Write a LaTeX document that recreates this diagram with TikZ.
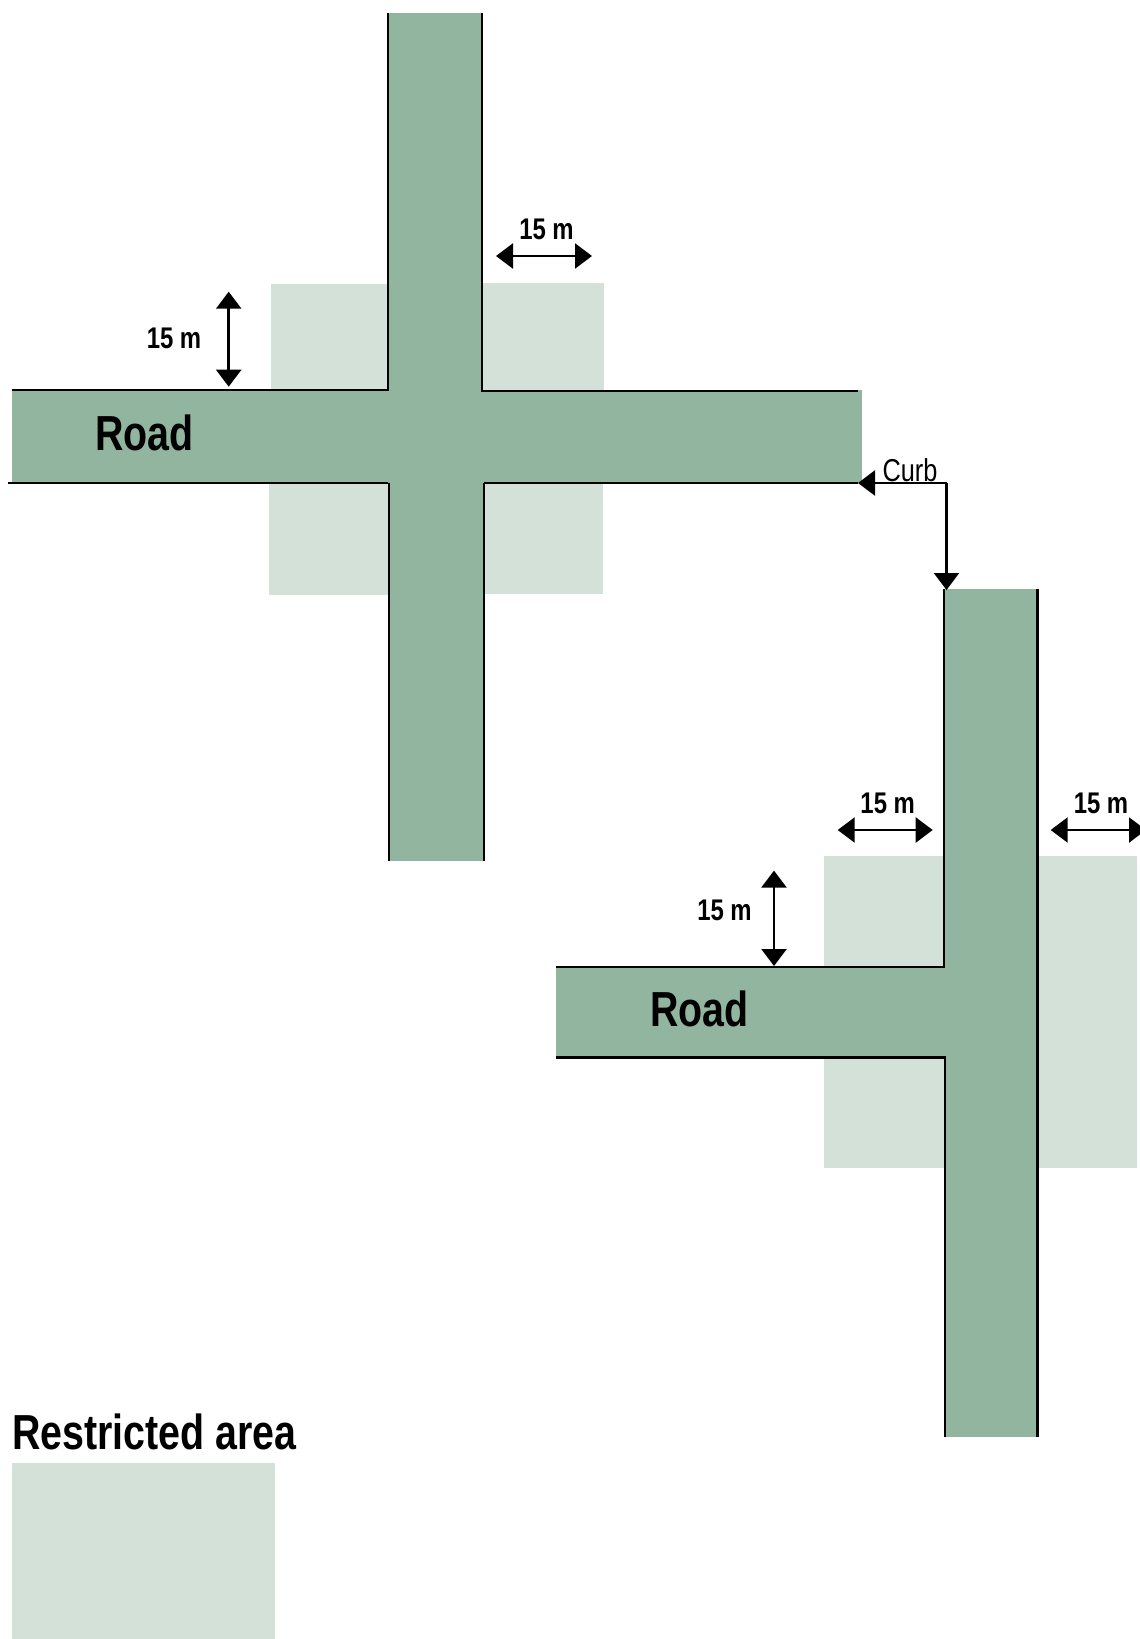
\documentclass[tikz,border=0pt]{standalone}
\usepackage{fontspec}
\setmainfont{Liberation Sans}
\newfontfamily\narrowbold[FakeStretch=0.8,WordSpace=1.3]{Liberation Sans}
\newfontfamily\narrowthin[FakeStretch=0.8]{Liberation Sans}
\usetikzlibrary{arrows.meta}
\definecolor{roadgreen}{HTML}{92B5A0}
\definecolor{zonegreen}{HTML}{D4E1D8}
\tikzset{
    road/.style={fill=roadgreen,draw=none},
    zone/.style={fill=zonegreen,draw=none},
    curbline/.style={black,line width=1.6pt},
    dimarrow/.style={black,line width=1.4pt,{Triangle[length=.34cm,width=.5cm]}-{Triangle[length=.34cm,width=.5cm]}},
    curbarrow/.style={black,line width=1.4pt,-{Triangle[length=.34cm,width=.5cm]}},
    dimlabel/.style={font=\narrowbold\bfseries\fontsize{17}{20}\selectfont,inner sep=0pt},
    roadlabel/.style={font=\narrowbold\bfseries\fontsize{28}{32}\selectfont,inner sep=0pt}
}
\begin{document}
\begin{tikzpicture}[x=0.02cm,y=-0.02cm]
    \useasboundingbox (0,0) rectangle (1139,1639);
    \fill[zone] (271,284) rectangle (389,391);
    \fill[zone] (482,283) rectangle (604,391);
    \fill[zone] (269,483) rectangle (390,595);
    \fill[zone] (483,483) rectangle (603,594);
    \fill[zone] (824,856) rectangle (945,1168);
    \fill[zone] (1037,856) rectangle (1137,1168);
    \fill[zone] (12,1463) rectangle (275,1639);
    \fill[road] (388,13) rectangle (483,861);
    \fill[road] (12,390) rectangle (862,483);
    \fill[road] (944,589) rectangle (1038,1437);
    \fill[road] (556,967) rectangle (945,1058);
    \draw[curbline] (388,13)--(388,390)--(12,390);
    \draw[curbline] (482,13)--(482,391)--(858,391);
    \draw[curbline] (8,483)--(388,483);
    \draw[curbline] (389,483)--(389,861);
    \draw[curbline] (484,483)--(484,861);
    \draw[curbline] (484,483)--(858,483);
    \draw[curbline] (944,589)--(944,967)--(556,967);
    \draw[curbline] (556,1057.5)--(945,1057.5)--(945,1437);
    \draw[curbline] (1037.5,589)--(1037.5,1437);
    \coordinate (curbcorner) at (946.5,483);
    \coordinate (curbleft) at (858,483);
    \coordinate (curbdown) at (946.5,590);
    \draw[curbarrow] (curbcorner)--(curbleft);
    \draw[curbarrow] (curbcorner)--(curbdown);
    \node[font=\narrowthin\fontsize{18}{20}\selectfont,inner sep=0pt] (curblabel) at (910,470) {Curb};
    \coordinate (topa) at (496,256);
    \coordinate (topb) at (592,256);
    \draw[dimarrow] (topa)--(topb);
    \node[dimlabel] (toplabel) at (546.5,229) {15 m};
    \coordinate (sidea) at (228.7,291.7);
    \coordinate (sideb) at (228.7,386.7);
    \draw[dimarrow] (sidea)--(sideb);
    \node[dimlabel] (sidelabel) at (174,338) {15 m};
    \coordinate (lowa) at (837.7,830);
    \coordinate (lowb) at (932.7,830);
    \draw[dimarrow] (lowa)--(lowb);
    \node[dimlabel] (lowlabel) at (887.7,803) {15 m};
    \coordinate (rightside) at (1050.7,830);
    \coordinate (rightend) at (1146,830);
    \draw[dimarrow] (rightside)--(rightend);
    \node[dimlabel] (rightlabel) at (1101,803) {15 m};
    \coordinate (stema) at (774,870.6);
    \coordinate (stemb) at (774,966);
    \draw[dimarrow] (stema)--(stemb);
    \node[dimlabel] (stemlabel) at (724.5,910) {15 m};
    \node[roadlabel] (roadone) at (144.5,432.6) {Road};
    \node[roadlabel] (roadtwo) at (699.5,1008.5) {Road};
    \node[roadlabel,anchor=west] (restricted) at (12,1432) {Restricted area};
\end{tikzpicture}
\end{document}
